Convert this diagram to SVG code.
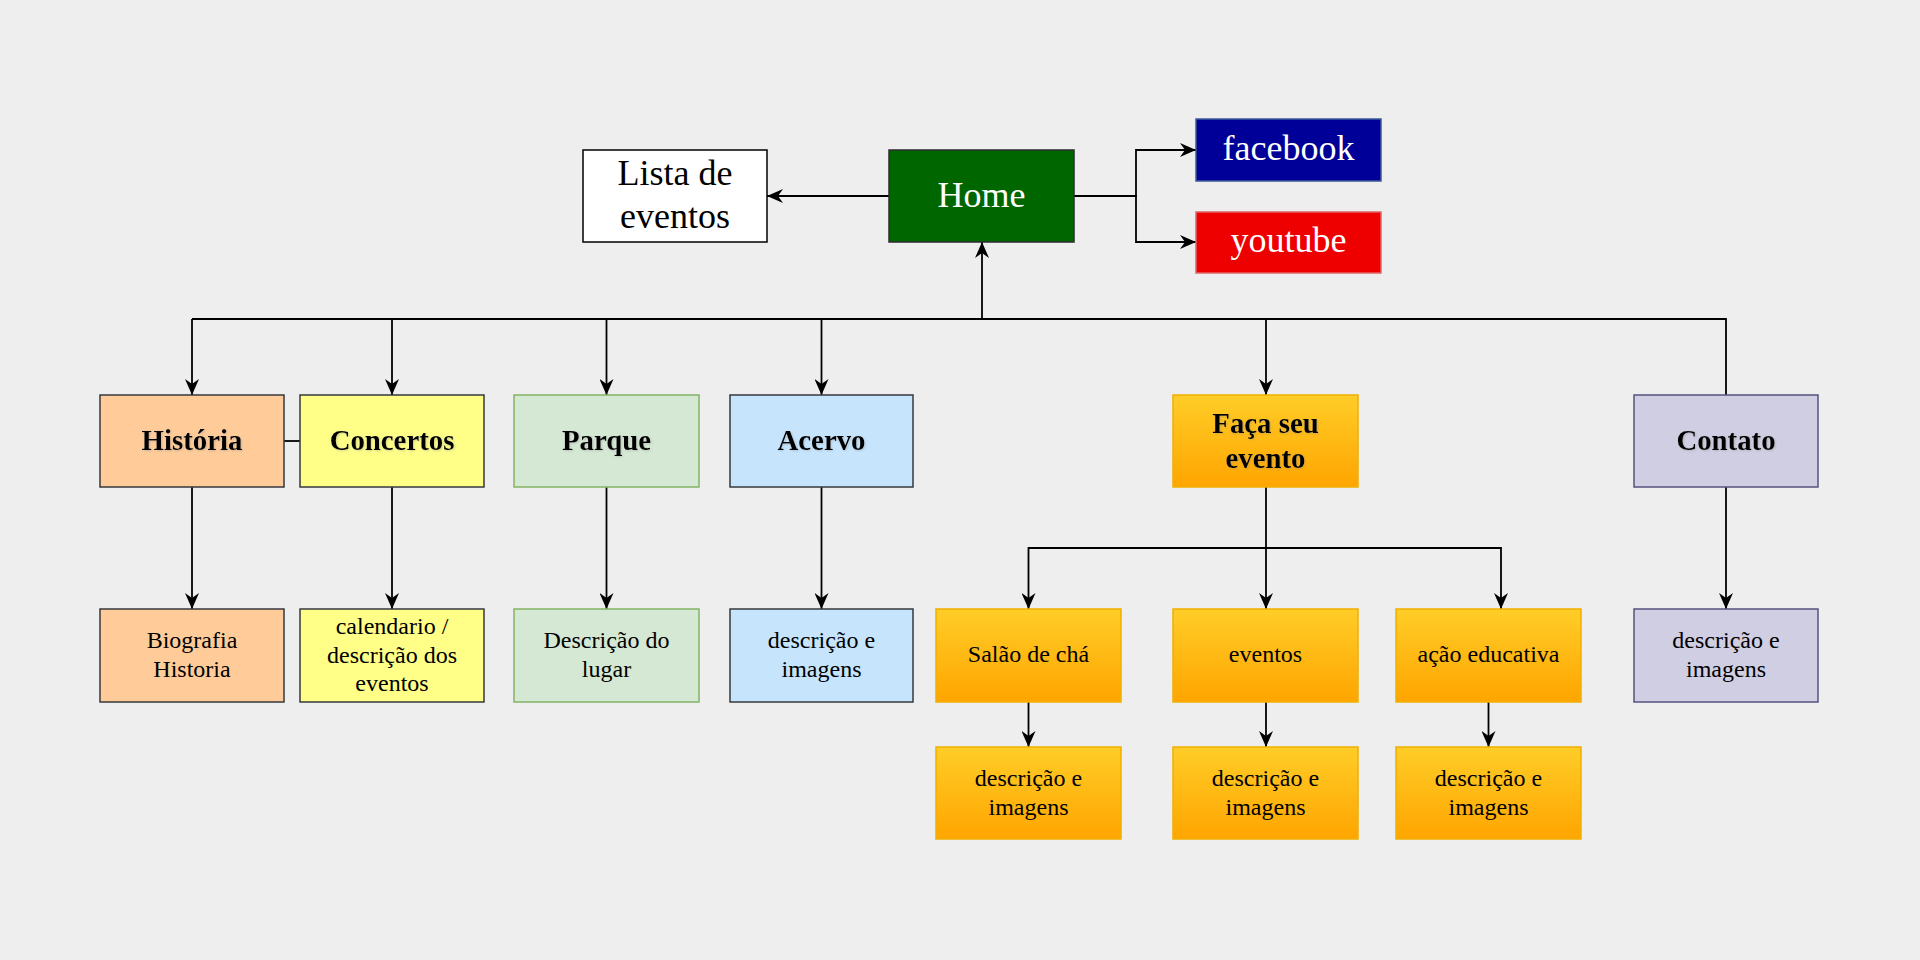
<svg xmlns="http://www.w3.org/2000/svg" width="1920" height="960" viewBox="0 0 1920 960">
<defs>
<style>
.edge{fill:none;stroke:#000;stroke-width:1.8}
.arr{marker-end:url(#ah)}
.t{font-family:"Liberation Serif","Times New Roman",serif;text-anchor:middle}
.big{font-size:36px}
.bold{font-size:28.8px;font-weight:bold;filter:url(#ts)}
.sm{font-size:24px}
.white{fill:#fff}
.blk{fill:#000}
</style>
<marker id="ah" markerUnits="userSpaceOnUse" markerWidth="16" markerHeight="14" refX="16" refY="7" orient="auto">
<path d="M0,0 L16,7 L0,14 L5,7 Z" fill="#000"/>
</marker>
<linearGradient id="og" x1="0" y1="0" x2="0" y2="1">
<stop offset="0" stop-color="#ffcd28"/>
<stop offset="1" stop-color="#ffa500"/>
</linearGradient>
<filter id="ts" x="-10%" y="-20%" width="120%" height="140%">
<feDropShadow dx="1" dy="1" stdDeviation="1" flood-color="#808080" flood-opacity="0.35"/>
</filter>
</defs>
<rect x="0" y="0" width="1920" height="960" fill="#eeeeee"/>

<g id="connectors">
<path class="edge arr" d="M889,196 H767"/>
<path class="edge arr" d="M1074,196 H1136 V150 H1196"/>
<path class="edge arr" d="M1074,196 H1136 V242 H1196"/>
<path class="edge arr" d="M982,319 V242"/>
<path class="edge" d="M192,319 H1726 V395"/>
<path class="edge arr" d="M192,319 V395"/>
<path class="edge arr" d="M392,319 V395"/>
<path class="edge arr" d="M606.5,319 V395"/>
<path class="edge arr" d="M821.5,319 V395"/>
<path class="edge arr" d="M1266,319 V395"/>
<path class="edge" d="M284,441 H300"/>
<path class="edge arr" d="M192,487 V609"/>
<path class="edge arr" d="M392,487 V609"/>
<path class="edge arr" d="M606.5,487 V609"/>
<path class="edge arr" d="M821.5,487 V609"/>
<path class="edge arr" d="M1726,487 V609"/>
<path class="edge arr" d="M1266,487 V609"/>
<path class="edge arr" d="M1266,548 H1028.5 V609"/>
<path class="edge arr" d="M1266,548 H1501 V609"/>
<path class="edge arr" d="M1028.5,702 V747"/>
<path class="edge arr" d="M1266,702 V747"/>
<path class="edge arr" d="M1488.5,702 V747"/>
</g>

<g id="lista">
<rect x="583" y="150" width="184" height="92" fill="#ffffff" stroke="#000" stroke-width="1.5"/>
<text class="t big blk" x="675" y="185">Lista de</text>
<text class="t big blk" x="675" y="228">eventos</text>
</g>
<g id="home">
<rect x="889" y="150" width="185" height="92" fill="#006600" stroke="#2d2d2d" stroke-width="1.5"/>
<text class="t big white" x="981.5" y="207">Home</text>
</g>
<g id="facebook">
<rect x="1196" y="119" width="185" height="62" fill="#000099" stroke="#3c5a9a" stroke-width="1.5"/>
<text class="t big white" x="1288.5" y="160">facebook</text>
</g>
<g id="youtube">
<rect x="1196" y="212" width="185" height="61" fill="#ee0000" stroke="#e06666" stroke-width="1.5"/>
<text class="t big white" x="1288.5" y="252">youtube</text>
</g>

<g id="historia">
<rect x="100" y="395" width="184" height="92" fill="#ffcc99" stroke="#36393d" stroke-width="1.5"/>
<text class="t bold" x="192" y="450">História</text>
</g>
<g id="concertos">
<rect x="300" y="395" width="184" height="92" fill="#ffff88" stroke="#36393d" stroke-width="1.5"/>
<text class="t bold" x="392" y="450">Concertos</text>
</g>
<g id="parque">
<rect x="514" y="395" width="185" height="92" fill="#d5e8d4" stroke="#82b366" stroke-width="1.5"/>
<text class="t bold" x="606.5" y="450">Parque</text>
</g>
<g id="acervo">
<rect x="730" y="395" width="183" height="92" fill="#c6e5fd" stroke="#36393d" stroke-width="1.5"/>
<text class="t bold" x="821.5" y="450">Acervo</text>
</g>
<g id="faca">
<rect x="1173" y="395" width="185" height="92" fill="url(#og)" stroke="#f0b000" stroke-width="1.5"/>
<text class="t bold" x="1265.5" y="433">Faça seu</text>
<text class="t bold" x="1265.5" y="468">evento</text>
</g>
<g id="contato">
<rect x="1634" y="395" width="184" height="92" fill="#d0cee2" stroke="#56517e" stroke-width="1.5"/>
<text class="t bold" x="1726" y="450">Contato</text>
</g>

<g id="biografia">
<rect x="100" y="609" width="184" height="93" fill="#ffcc99" stroke="#36393d" stroke-width="1.5"/>
<text class="t sm blk" x="192" y="648">Biografia</text>
<text class="t sm blk" x="192" y="677">Historia</text>
</g>
<g id="calendario">
<rect x="300" y="609" width="184" height="93" fill="#ffff88" stroke="#36393d" stroke-width="1.5"/>
<text class="t sm blk" x="392" y="634">calendario /</text>
<text class="t sm blk" x="392" y="663">descrição dos</text>
<text class="t sm blk" x="392" y="691">eventos</text>
</g>
<g id="lugar">
<rect x="514" y="609" width="185" height="93" fill="#d5e8d4" stroke="#82b366" stroke-width="1.5"/>
<text class="t sm blk" x="606.5" y="648">Descrição do</text>
<text class="t sm blk" x="606.5" y="677">lugar</text>
</g>
<g id="acervo-desc">
<rect x="730" y="609" width="183" height="93" fill="#c6e5fd" stroke="#36393d" stroke-width="1.5"/>
<text class="t sm blk" x="821.5" y="648">descrição e</text>
<text class="t sm blk" x="821.5" y="677">imagens</text>
</g>
<g id="salao">
<rect x="936" y="609" width="185" height="93" fill="url(#og)" stroke="#f0b000" stroke-width="1.5"/>
<text class="t sm blk" x="1028.5" y="662">Salão de chá</text>
</g>
<g id="eventos">
<rect x="1173" y="609" width="185" height="93" fill="url(#og)" stroke="#f0b000" stroke-width="1.5"/>
<text class="t sm blk" x="1265.5" y="662">eventos</text>
</g>
<g id="acao">
<rect x="1396" y="609" width="185" height="93" fill="url(#og)" stroke="#f0b000" stroke-width="1.5"/>
<text class="t sm blk" x="1488.5" y="662">ação educativa</text>
</g>
<g id="contato-desc">
<rect x="1634" y="609" width="184" height="93" fill="#d0cee2" stroke="#56517e" stroke-width="1.5"/>
<text class="t sm blk" x="1726" y="648">descrição e</text>
<text class="t sm blk" x="1726" y="677">imagens</text>
</g>

<g id="salao-desc">
<rect x="936" y="747" width="185" height="92" fill="url(#og)" stroke="#f0b000" stroke-width="1.5"/>
<text class="t sm blk" x="1028.5" y="786">descrição e</text>
<text class="t sm blk" x="1028.5" y="815">imagens</text>
</g>
<g id="eventos-desc">
<rect x="1173" y="747" width="185" height="92" fill="url(#og)" stroke="#f0b000" stroke-width="1.5"/>
<text class="t sm blk" x="1265.5" y="786">descrição e</text>
<text class="t sm blk" x="1265.5" y="815">imagens</text>
</g>
<g id="acao-desc">
<rect x="1396" y="747" width="185" height="92" fill="url(#og)" stroke="#f0b000" stroke-width="1.5"/>
<text class="t sm blk" x="1488.5" y="786">descrição e</text>
<text class="t sm blk" x="1488.5" y="815">imagens</text>
</g>
</svg>
